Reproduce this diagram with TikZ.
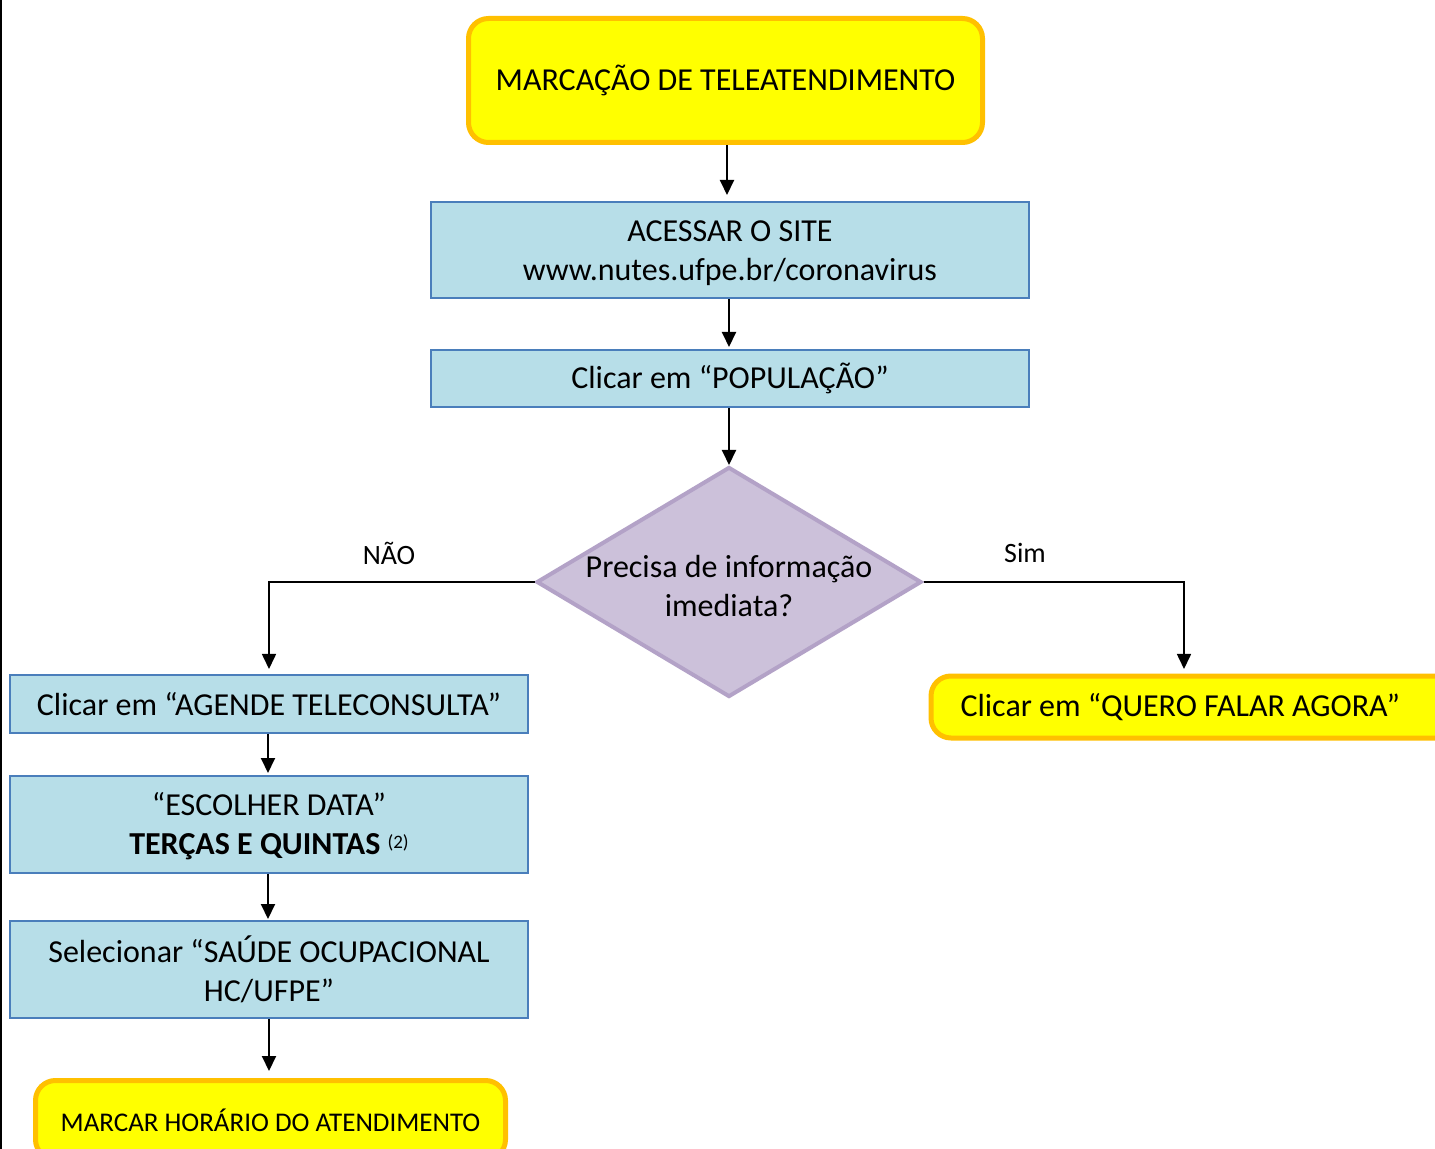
\documentclass[tikz,border=0pt]{standalone}
\usepackage{fontspec}
\setmainfont{Carlito}
\usetikzlibrary{shapes.geometric,arrows.meta}
\definecolor{yfill}{HTML}{FFFF00}
\definecolor{yedge}{HTML}{FFC000}
\definecolor{bfill}{HTML}{B7DEE8}
\definecolor{bedge}{HTML}{4A7EBB}
\definecolor{dfill}{HTML}{CCC1DA}
\definecolor{dedge}{HTML}{B3A2C7}
\tikzset{
  ybox/.style={draw=yedge,fill=yfill,line width=2.5pt,rounded corners=10pt,inner sep=0pt,align=center,font=\fontsize{16}{19.5}\selectfont},
  bbox/.style={draw=bedge,fill=bfill,line width=0.8pt,inner sep=0pt,minimum width=299pt,align=center,font=\fontsize{16}{19.5}\selectfont},
  decision/.style={diamond,draw=dedge,fill=dfill,line width=2pt,inner sep=0pt,minimum width=192.5pt,minimum height=115pt},
  conn/.style={line width=1pt,-{Triangle[length=7.5pt,width=7pt]}},
  elbow/.style={line width=0.8pt,-{Triangle[length=7.5pt,width=7pt]}},
  lbl/.style={font=\fontsize{14}{16}\selectfont,inner sep=0pt}
}
\begin{document}
\begin{tikzpicture}[x=0.5pt,y=-0.5pt]
\useasboundingbox (0,0) rectangle (1435,1149);
\clip (0,0) rectangle (1435,1149);
\fill[white] (0,0) rectangle (1435,1149);
\draw[line width=1pt] (1,0) -- (1,1149);

\node[ybox,minimum width=257pt,minimum height=62pt] (top) at (725.5,80.5) {MARCAÇÃO DE TELEATENDIMENTO};
\node[bbox,minimum height=48pt] (site) at (730,250) {\rule{0pt}{14pt}ACESSAR O SITE\\www.nutes.ufpe.br/coronavirus};
\node[bbox,minimum height=28.5pt] (pop) at (730,378.5) {\rule{0pt}{12pt}Clicar em “POPULAÇÃO”};
\node[decision] (dec) at (729,582) {};
\node[align=center,inner sep=0pt,font=\fontsize{16}{19.5}\selectfont] (dect) at (729,586) {Precisa de informação\\imediata?};

\node[bbox,minimum width=259pt,minimum height=29pt] (agende) at (269,704) {Clicar em “AGENDE TELECONSULTA”};
\node[bbox,minimum width=259pt,minimum height=48.5pt] (data) at (269,824.5) {\rule{0pt}{13.5pt}“ESCOLHER DATA”\\\textbf{TERÇAS E QUINTAS} {\fontsize{9.5}{11}\selectfont\raisebox{0.75ex}{(2)}}};
\node[bbox,minimum width=259pt,minimum height=48.5pt] (sel) at (269,969.5) {Selecionar “SAÚDE OCUPACIONAL\\HC/UFPE”};
\node[ybox,minimum width=235pt,minimum height=39.5pt,font=\fontsize{13.5}{16}\selectfont] (hor) at (270.5,1120) {MARCAR HORÁRIO DO ATENDIMENTO};

\node[ybox,anchor=west,minimum height=31pt,inner xsep=14.75pt,text width=270.5pt,align=flush left] (agora) at (928.5,707) {Clicar em “QUERO FALAR AGORA”};

\draw[conn] (top.south -| 727,0) -- (727,195);
\draw[conn] (site.south -| 729,0) -- (729,347);
\draw[conn] (pop.south -| 729,0) -- (dec.north);
\draw[elbow] (dec.west) -- (269,582) -- (269,669);
\draw[elbow] (dec.east) -- (1184,582) -- (1184,669);
\node[lbl] (nao) at (389,553) {NÃO};
\node[lbl] (sim) at (1025,553) {Sim};
\draw[conn] (agende.south -| 268,0) -- (268,773);
\draw[conn] (data.south -| 268,0) -- (268,919);
\draw[conn] (sel.south -| 269,0) -- (269,1071);
\end{tikzpicture}
\end{document}
